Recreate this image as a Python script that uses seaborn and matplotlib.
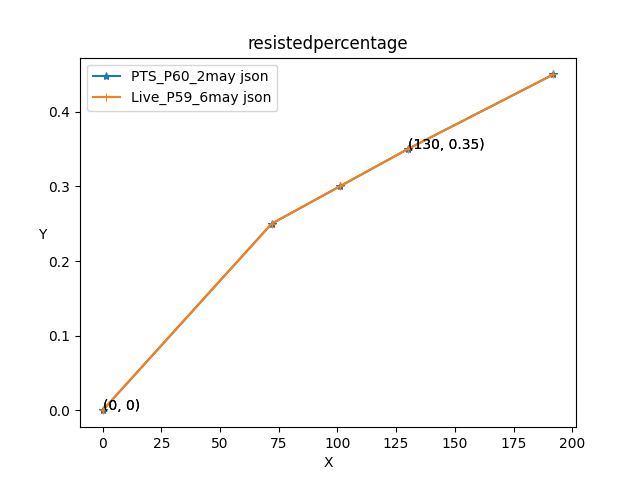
import matplotlib
matplotlib.use('Agg')
import matplotlib.pyplot as plt
import seaborn as sns
import pandas as pd

# values
x_values = [0, 72, 101, 130, 192]
pts_values = [0, 0.25, 0.30, 0.35, 0.45]
live_values = [0, 0.25, 0.30, 0.35, 0.45]
series_names = ['PTS_P60_2may json', 'Live_P59_6may json']
annotated_x = [0, 130]
annotated_labels = ['(0, 0)', '(130, 0.35)']

# keep plain matplotlib look (black text, full frame)
plt.rcParams['font.family'] = ['DejaVu Sans']

fig, ax = plt.subplots(figsize=(6.4, 4.8), dpi=100)

markers = ['*', '+']
for name, vals, mk in zip(series_names, [pts_values, live_values], markers):
    df = pd.DataFrame({'X': x_values, 'Y': vals})
    sns.lineplot(data=df, x='X', y='Y', marker=mk, label=name, ax=ax,
                 markeredgecolor=None, markersize=6)
    # annotate selected points (once per series, like the original)
    for xa, lab in zip(annotated_x, annotated_labels):
        ya = vals[x_values.index(xa)]
        ax.annotate(lab, xy=(xa, ya))

ax.set_title('resistedpercentage')
ax.set_xlabel('X')
ax.set_ylabel('Y', rotation=0)
ax.legend(loc='upper left')

fig.savefig('out.png', dpi=100)
